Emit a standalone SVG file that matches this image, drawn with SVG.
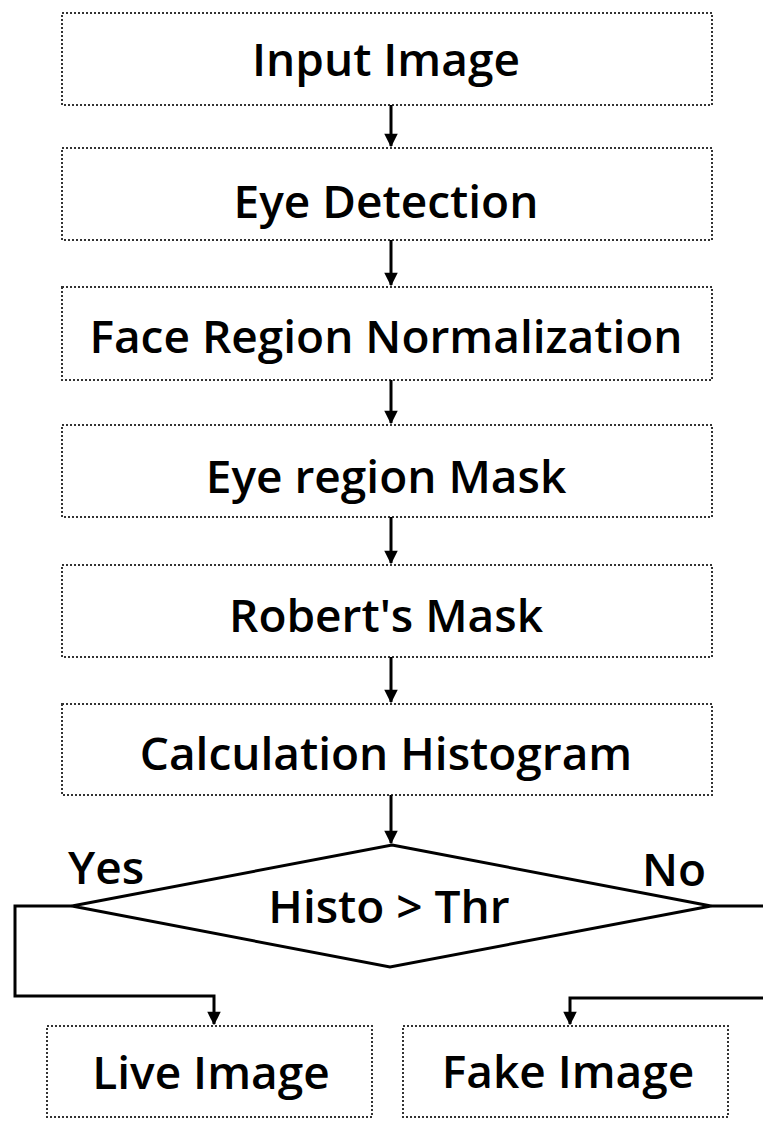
<svg xmlns="http://www.w3.org/2000/svg" width="763" height="1123" viewBox="0 0 763 1123">
<defs>
<style>
.box{fill:#fff;stroke:#333;stroke-width:2;stroke-dasharray:2 2}
.t{font-family:"Open Sans","Noto Sans",sans-serif;font-size:46px;font-weight:600;fill:#000;text-anchor:middle}
.c{fill:none;stroke:#000;stroke-width:3}
</style>
<marker id="ah" viewBox="0 0 10 10" refX="9" refY="5" markerWidth="5" markerHeight="4.5" orient="auto" markerUnits="strokeWidth"><path d="M0,0 L10,5 L0,10 z" fill="#000"/></marker>
</defs>
<rect width="763" height="1123" fill="#fff"/>
<g id="n1"><rect class="box" x="62" y="13" width="650" height="92"/><text class="t" x="386" y="76">Input Image</text></g>
<g id="n2"><rect class="box" x="62" y="148" width="650" height="92"/><text class="t" x="386" y="218">Eye Detection</text></g>
<g id="n3"><rect class="box" x="62" y="287" width="650" height="93"/><text class="t" x="386" y="353">Face Region Normalization</text></g>
<g id="n4"><rect class="box" x="62" y="425" width="650" height="92"/><text class="t" x="386" y="493">Eye region Mask</text></g>
<g id="n5"><rect class="box" x="62" y="565" width="650" height="92"/><text class="t" x="386" y="632">Robert's Mask</text></g>
<g id="n6"><rect class="box" x="62" y="704" width="650" height="91"/><text class="t" x="386" y="770">Calculation Histogram</text></g>
<g id="n7"><polygon points="392,845 711,906 390,967 72,906" fill="#fff" stroke="#000" stroke-width="3"/><text class="t" x="389" y="923">Histo &gt; Thr</text></g>
<g id="n8"><rect class="box" x="47" y="1026" width="325" height="91"/><text class="t" x="211" y="1089">Live Image</text></g>
<g id="n9"><rect class="box" x="403" y="1026" width="325" height="91"/><text class="t" x="568" y="1088">Fake Image</text></g>
<g id="labels">
<text class="t" x="106" y="884">Yes</text>
<text class="t" x="674" y="886">No</text>
</g>
<g id="connectors">
<line class="c" x1="391" y1="105" x2="391" y2="146" marker-end="url(#ah)"/>
<line class="c" x1="391" y1="240" x2="391" y2="285" marker-end="url(#ah)"/>
<line class="c" x1="391" y1="380" x2="391" y2="423" marker-end="url(#ah)"/>
<line class="c" x1="391" y1="517" x2="391" y2="563" marker-end="url(#ah)"/>
<line class="c" x1="391" y1="657" x2="391" y2="702" marker-end="url(#ah)"/>
<line class="c" x1="391" y1="795" x2="391" y2="843" marker-end="url(#ah)"/>
<polyline class="c" points="72,906 15,906 15,996 214,996 214,1024" marker-end="url(#ah)"/>
<polyline class="c" points="711,906 763,906"/>
<polyline class="c" points="763,998 570,998 570,1024" marker-end="url(#ah)"/>
</g>
</svg>
